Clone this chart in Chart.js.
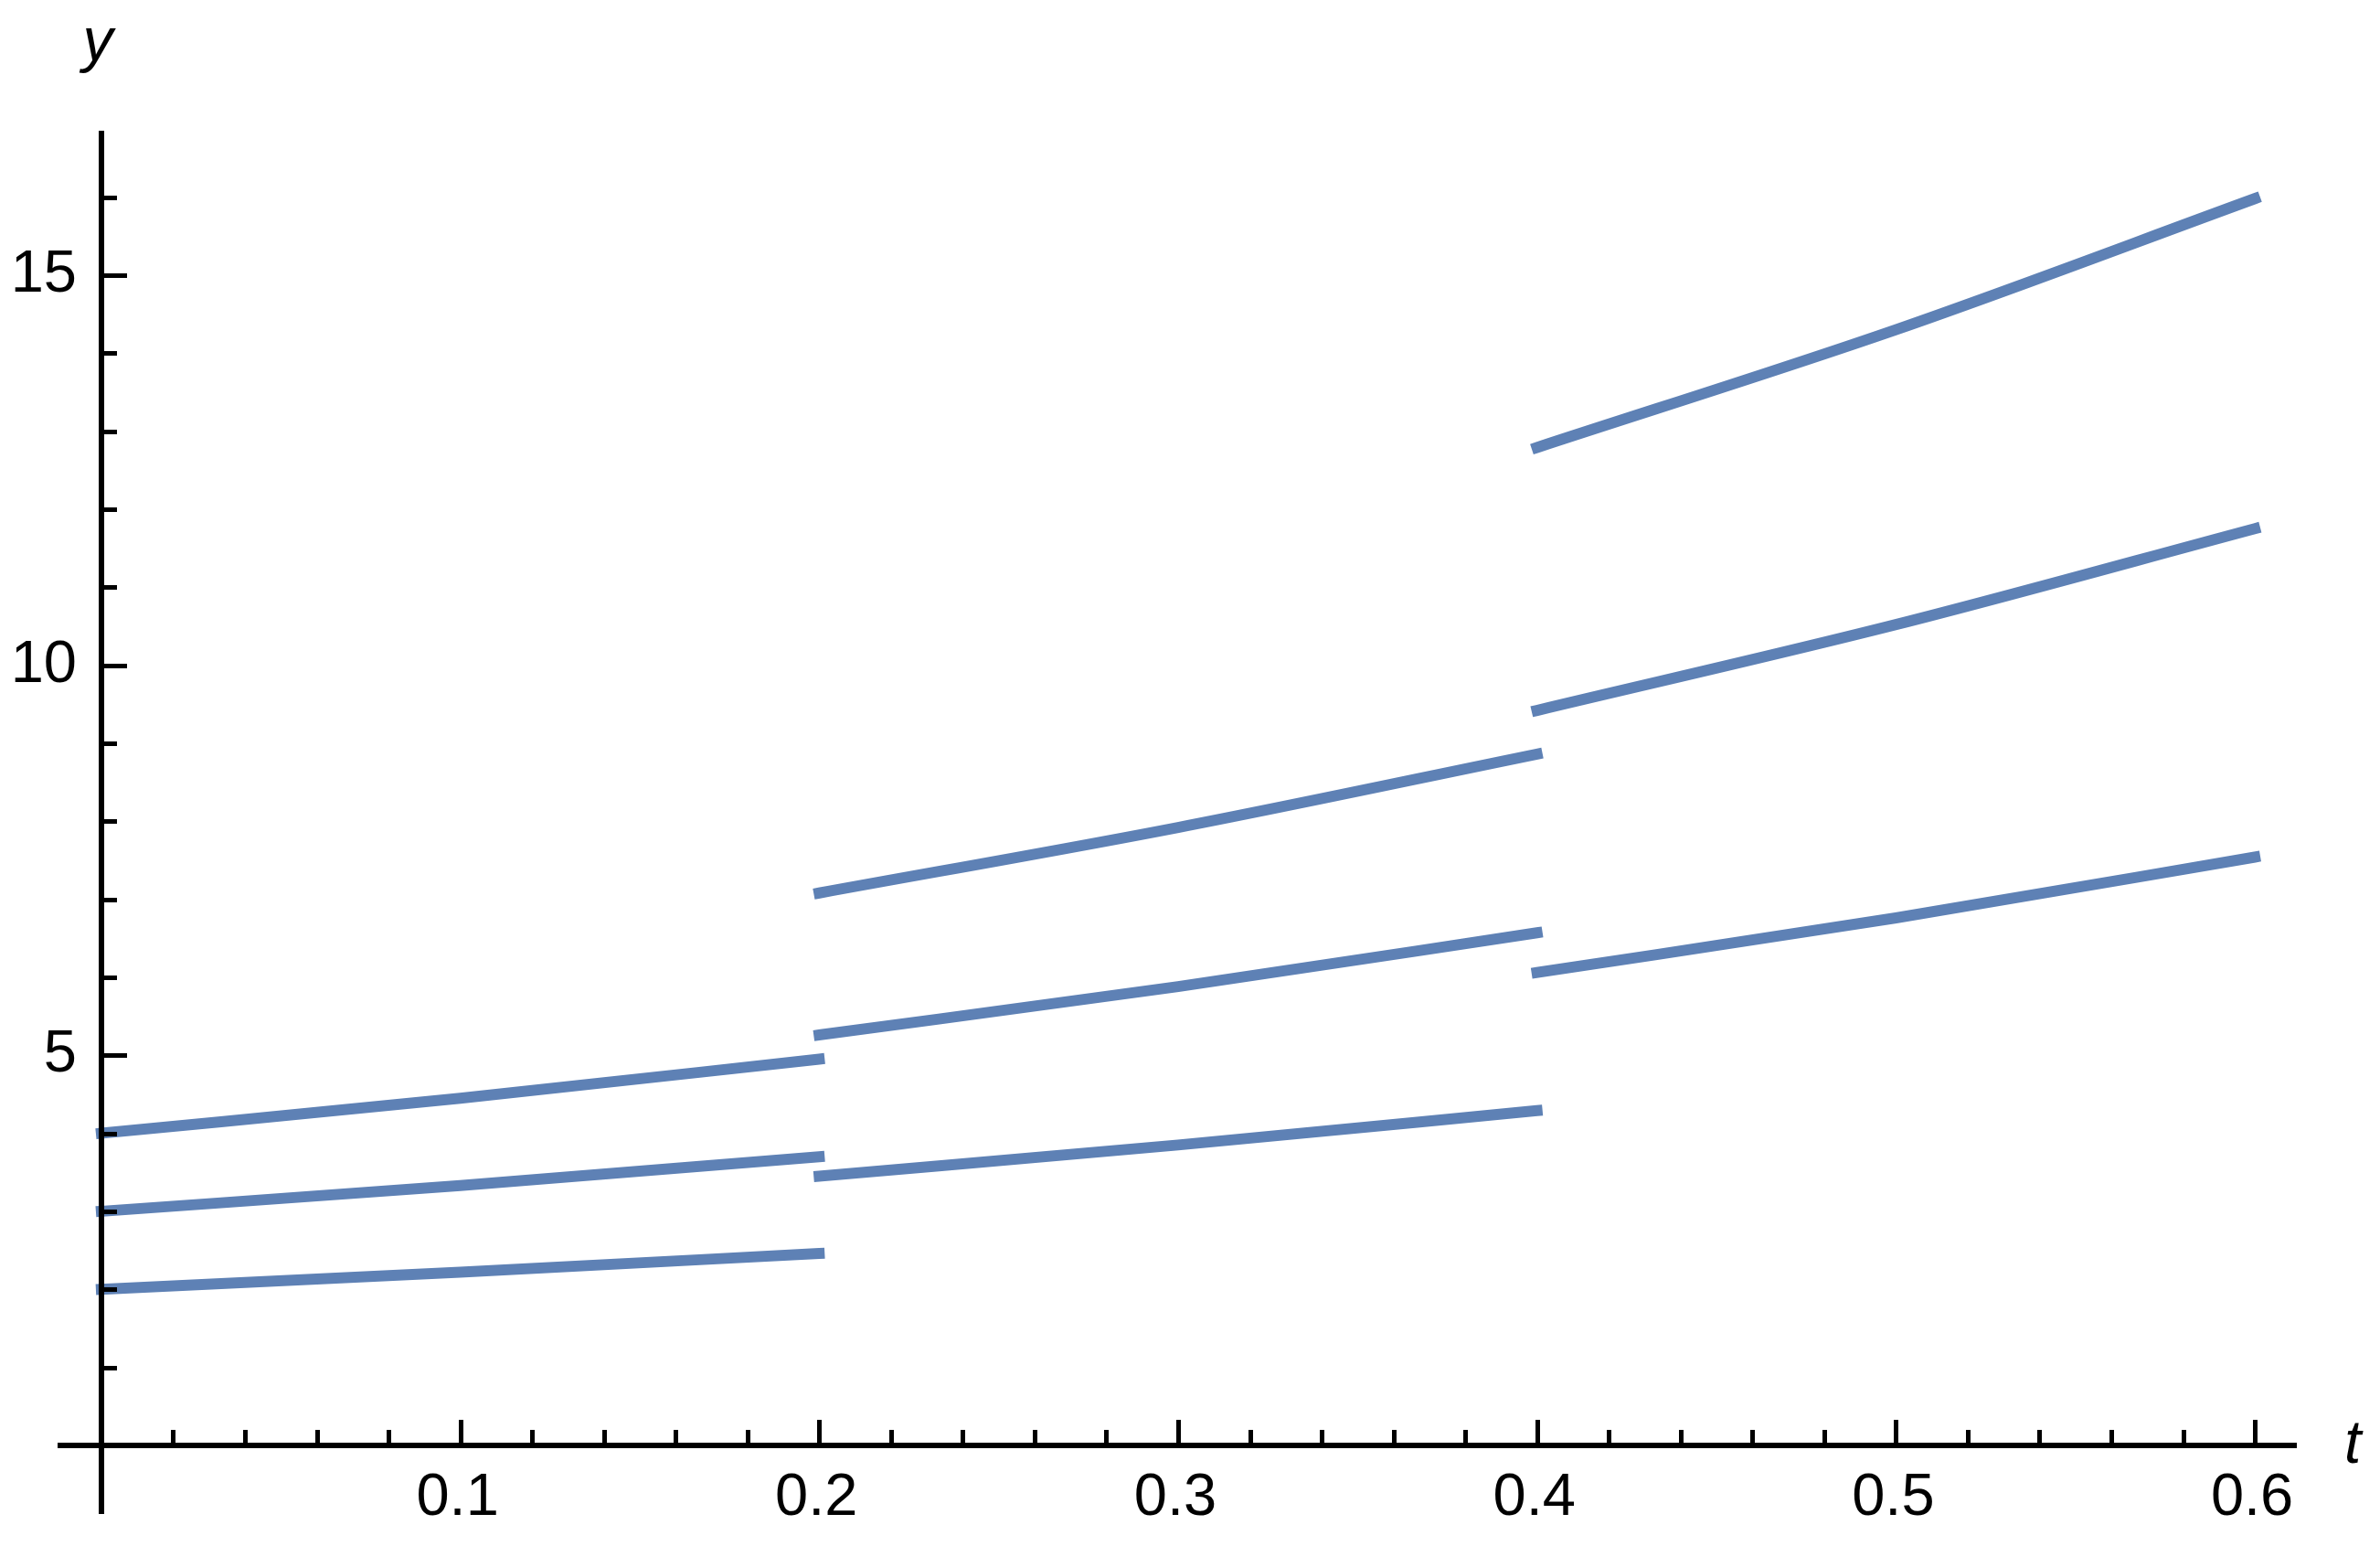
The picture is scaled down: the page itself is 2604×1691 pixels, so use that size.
<!DOCTYPE html>
<html>
<head>
<meta charset="utf-8">
<script src="https://cdn.jsdelivr.net/npm/chart.js@4/dist/chart.umd.min.js"></script>
<style>
    body { margin: 0; background: #ffffff; }
    #grafica { display: block; }
</style>
</head>
<body>
<canvas id="grafica" width="2604" height="1691"></canvas>
<script>
// tramos de t (tres intervalos)
const tTramos = [[0, 0.1, 0.2], [0.2, 0.3, 0.4], [0.4, 0.5, 0.6]];
// valores, por curva y por tramo
const curvaInferior = [[2, 2.22, 2.46], [3.45, 3.85, 4.29], [6.06, 6.76, 7.54]];
const curvaMedia = [[3, 3.33, 3.70], [5.26, 5.88, 6.57], [9.42, 10.52, 11.75]];
const curvaSuperior = [[4, 4.45, 4.95], [7.08, 7.92, 8.86], [12.79, 14.30, 15.98]];

// ticks
const xTicksMayores = [0.1, 0.2, 0.3, 0.4, 0.5, 0.6];
const xTicksMenores = [0.02, 0.04, 0.06, 0.08, 0.12, 0.14, 0.16, 0.18, 0.22, 0.24, 0.26, 0.28,
    0.32, 0.34, 0.36, 0.38, 0.42, 0.44, 0.46, 0.48, 0.52, 0.54, 0.56, 0.58];
const yTicksMayores = [5, 10, 15];
const yTicksMenores = [1, 2, 3, 4, 6, 7, 8, 9, 11, 12, 13, 14, 16];

const colorLinea = 'rgb(94,129,181)';
const fuente = '"Liberation Sans", Arial, sans-serif';

function crearDatasets() {
    let datasets = [];
    for (const curva of [curvaInferior, curvaMedia, curvaSuperior]) {
        for (let i = 0; i < tTramos.length; i++) {
            datasets.push({
                data: tTramos[i].map((t, j) => ({ x: t, y: curva[i][j] })),
                borderColor: colorLinea,
                borderWidth: 12,
                borderCapStyle: 'square',
                pointRadius: 0,
                cubicInterpolationMode: 'monotone',
                fill: false
            });
        }
    }
    return datasets;
}

// ejes estilo Mathematica: cruzan en el origen, ticks hacia dentro
const ejesPlugin = {
    id: 'ejes',
    afterDatasetsDraw(chart) {
        const ctx = chart.ctx;
        const area = chart.chartArea;
        const sx = chart.scales.x;
        const sy = chart.scales.y;
        const x0 = Math.round(sx.getPixelForValue(0));
        const y0 = Math.round(sy.getPixelForValue(0));
        ctx.save();
        ctx.strokeStyle = '#000';
        ctx.fillStyle = '#000';
        ctx.lineWidth = 6;
        ctx.beginPath();
        ctx.moveTo(area.left, y0);
        ctx.lineTo(area.right, y0);
        ctx.moveTo(x0, area.top);
        ctx.lineTo(x0, area.bottom);
        ctx.stroke();

        ctx.lineWidth = 5;
        ctx.beginPath();
        for (const v of xTicksMayores) {
            const px = Math.round(sx.getPixelForValue(v)) + 0.5;
            ctx.moveTo(px, y0);
            ctx.lineTo(px, y0 - 28);
        }
        for (const v of xTicksMenores) {
            const px = Math.round(sx.getPixelForValue(v)) + 0.5;
            ctx.moveTo(px, y0);
            ctx.lineTo(px, y0 - 17);
        }
        for (const v of yTicksMayores) {
            const py = Math.round(sy.getPixelForValue(v)) + 0.5;
            ctx.moveTo(x0, py);
            ctx.lineTo(x0 + 28, py);
        }
        for (const v of yTicksMenores) {
            const py = Math.round(sy.getPixelForValue(v)) + 0.5;
            ctx.moveTo(x0, py);
            ctx.lineTo(x0 + 17, py);
        }
        ctx.stroke();

        ctx.font = '65px ' + fuente;
        ctx.textBaseline = 'alphabetic';
        ctx.textAlign = 'center';
        for (const v of xTicksMayores) {
            ctx.fillText(v.toString(), sx.getPixelForValue(v) - 3, y0 + 76);
        }
        ctx.textAlign = 'right';
        for (const v of yTicksMayores) {
            ctx.fillText(v.toString(), x0 - 27, sy.getPixelForValue(v) + 18);
        }

        ctx.font = 'italic 66px ' + fuente;
        ctx.textAlign = 'center';
        ctx.fillText('y', x0 - 4, 66);
        ctx.textAlign = 'left';
        ctx.fillText('t', area.right + 52, y0 + 19);
        ctx.restore();
    }
};

const grafica = new Chart(document.getElementById('grafica'), {
    type: 'line',
    data: { datasets: crearDatasets() },
    options: {
        responsive: false,
        animation: false,
        devicePixelRatio: 1,
        layout: { padding: { left: 63, right: 91, top: 143, bottom: 35 } },
        plugins: {
            legend: { display: false },
            tooltip: { enabled: false },
            title: { display: false }
        },
        scales: {
            x: { type: 'linear', min: -0.0122, max: 0.6117, display: false },
            y: { type: 'linear', min: -0.88, max: 16.85, display: false }
        }
    },
    plugins: [ejesPlugin]
});
</script>
</body>
</html>
